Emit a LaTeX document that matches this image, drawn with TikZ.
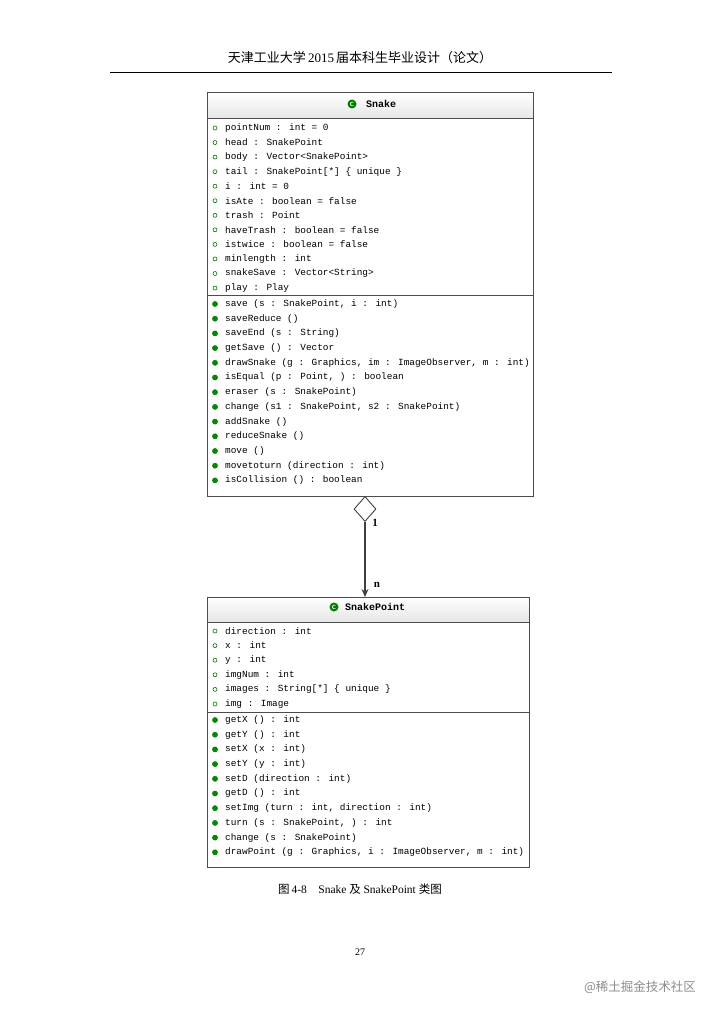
\documentclass[tikz,border=0pt]{standalone}
\usepackage{fontspec}
\usetikzlibrary{shapes.geometric,arrows.meta}
\setmainfont{Liberation Serif}
\newfontfamily\cjk{Noto Sans CJK SC}
\newfontfamily\mono{Liberation Mono}
\begin{document}
\begin{tikzpicture}[x=1pt,y=-1pt,
  box/.style={draw=black!70,line width=1pt},
  hdr/.style={top color=white,bottom color=black!10},
  mem/.style={anchor=west,inner sep=0pt,font=\mono\fontsize{9.4}{10}\selectfont},
  att/.style={draw=green!45!black,line width=0.6pt,fill=white},
  mth/.style={draw=green!45!black,fill=green!55!black},
  ttl/.style={font=\mono\bfseries\fontsize{10}{10}\selectfont,inner sep=0pt}]
\useasboundingbox (0,0) rectangle (720,1019);
\node (pagehead) at (360,58) {\cjk\fontsize{13}{15}\selectfont 天津工业大学\,\rmfamily 2015\,\cjk 届本科生毕业设计（论文）};
\draw[line width=0.6pt] (110,72) -- (612,72);
% Snake
\fill[hdr] (207,93) rectangle (533,118);
\draw[box] (207,93) rectangle (533,496);
\draw[black!70] (207,118) -- (533,118);
\draw[black!70] (207,295) -- (533,295);
\node[ttl] (snake) at (381,104) {Snake};
\fill[green!50!black] (352,104) circle (4.5);
\node[text=white,font=\sffamily\bfseries\fontsize{6}{6}\selectfont,inner sep=0pt] at (352,104) {C};
\foreach \t [count=\i] in {pointNum : int = 0,head : SnakePoint,body : Vector<SnakePoint>,tail : SnakePoint[*] \{ unique \},i : int = 0,isAte : boolean = false,trash : Point,haveTrash : boolean = false,istwice : boolean = false,minlength : int,snakeSave : Vector<String>,play : Play}{
  \pgfmathsetmacro\yy{128+(\i-1)*14.55}
  \draw[att] (215,\yy) circle (2);
  \node[mem] at (225,\yy) {\t};
}
\foreach \t [count=\i] in {{save (s : SnakePoint, i : int)},saveReduce (),saveEnd (s : String),getSave () : Vector,{drawSnake (g : Graphics, im : ImageObserver, m : int)},{isEqual (p : Point, ) : boolean},eraser (s : SnakePoint),{change (s1 : SnakePoint, s2 : SnakePoint)},addSnake (),reduceSnake (),move (),movetoturn (direction : int),isCollision () : boolean}{
  \pgfmathsetmacro\yy{304+(\i-1)*14.7}
  \fill[mth] (215,\yy) circle (2.6);
  \node[mem] at (225,\yy) {\t};
}
% SnakePoint
\fill[hdr] (207,597) rectangle (529,622);
\draw[box] (207,597) rectangle (529,867);
\draw[black!70] (207,622) -- (529,622);
\draw[black!70] (207,712) -- (529,712);
\node[ttl] (sp) at (375,607) {SnakePoint};
\fill[green!50!black] (334,607) circle (4.5);
\node[text=white,font=\sffamily\bfseries\fontsize{6}{6}\selectfont,inner sep=0pt] at (334,607) {C};
\foreach \t [count=\i] in {direction : int,x : int,y : int,imgNum : int,images : String[*] \{ unique \},img : Image}{
  \pgfmathsetmacro\yy{631+(\i-1)*14.6}
  \draw[att] (215,\yy) circle (2);
  \node[mem] at (225,\yy) {\t};
}
\foreach \t [count=\i] in {getX () : int,getY () : int,setX (x : int),setY (y : int),setD (direction : int),getD () : int,{setImg (turn : int, direction : int)},{turn (s : SnakePoint, ) : int},change (s : SnakePoint),{drawPoint (g : Graphics, i : ImageObserver, m : int)}}{
  \pgfmathsetmacro\yy{720+(\i-1)*14.7}
  \fill[mth] (215,\yy) circle (2.6);
  \node[mem] at (225,\yy) {\t};
}
\coordinate (spt) at (365,597);
% association
\node[draw=black!75,line width=0.9pt,fill=white,shape=diamond,aspect=0.9,inner sep=0pt,minimum width=22pt,minimum height=25pt] (dia) at (365,509) {};
\draw[black!75,line width=1.3pt,-{Stealth[length=8pt,width=7pt]}] (dia.south) -- (spt);
\node[font=\bfseries\fontsize{11}{11}\selectfont] (one) at (375,523) {1};
\node[font=\bfseries\fontsize{11}{11}\selectfont] (nn) at (377,585) {n};
\node (cap) at (360,889) {\fontsize{11.5}{13}\selectfont \cjk 图\,\rmfamily 4-8\quad Snake \cjk 及 \rmfamily SnakePoint \cjk 类图};
\node (pg) at (360,952) {\fontsize{10}{12}\selectfont 27};
\node[text=black!45] (wm) at (640,987) {\cjk\fontsize{12.5}{14}\selectfont @稀土掘金技术社区};
\end{tikzpicture}
\end{document}
